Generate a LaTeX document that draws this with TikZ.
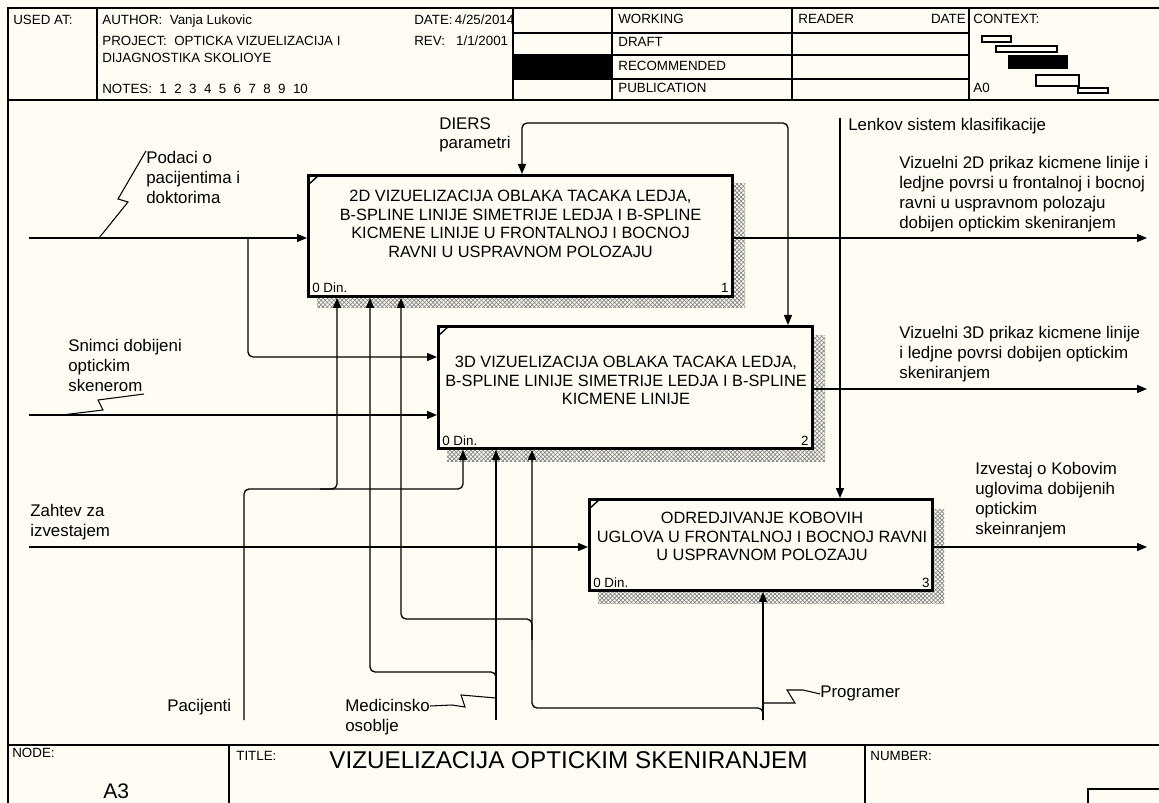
\documentclass[tikz,border=0pt]{standalone}
\usepackage{fontspec}
\setmainfont{Liberation Sans}
\usetikzlibrary{arrows.meta,patterns,patterns.meta}
\definecolor{bg}{RGB}{254,252,243}
\begin{document}
\begin{tikzpicture}[x=0.02cm,y=-0.02cm,
  frame/.style={line width=0.9pt},
  conn/.style={line width=0.75pt, rounded corners=0.1cm},
  arr/.style={-{Triangle[length=0.2cm,width=0.16cm]}},
  arrboth/.style={{Triangle[length=0.2cm,width=0.16cm]}-{Triangle[length=0.2cm,width=0.16cm]}},
  sq/.style={line width=0.6pt},
  fnbox/.style={draw, line width=1.7pt, fill=bg, inner sep=0, anchor=north west},
  shadA/.style={pattern={Lines[angle=45,distance=1.7pt,line width=0.4pt]}, pattern color=black!50},
  shadB/.style={pattern={Lines[angle=-45,distance=1.7pt,line width=0.4pt]}, pattern color=black!50},
  hdr/.style={font=\fontsize{7.6}{8.5}\selectfont, inner sep=0, anchor=base west},
  lbl/.style={font=\fontsize{9.6}{11.3}\selectfont, inner sep=0, anchor=north west, align=left},
  btxt/.style={font=\fontsize{9.3}{10.5}\selectfont, inner sep=0, anchor=north, align=center},
  small/.style={font=\fontsize{7.6}{8}\selectfont, inner sep=0},
]
\useasboundingbox (0,0) rectangle (1159,803);
\fill[bg] (0,0) rectangle (1159,803);

% ---------- frame ----------
\draw[frame] (1159,8) -- (8,8) -- (8,803);
\draw[frame] (8,100) -- (1159,100);
\draw[frame] (97,8) -- (97,100);
\draw[frame] (513,8) -- (513,100);
\draw[frame] (612,8) -- (612,100);
\draw[frame] (792,8) -- (792,100);
\draw[frame] (969,8) -- (969,100);
\draw[frame] (513,33) -- (969,33);
\draw[frame] (513,55) -- (969,55);
\draw[frame] (513,79) -- (969,79);
\fill[black] (513,55) rectangle (612,79);
\draw[frame] (8,745) -- (1159,745);
\draw[frame] (229,745) -- (229,803);
\draw[frame] (865,745) -- (865,803);
\draw[line width=0.8pt] (1088,810) -- (1088,789) -- (1165,789);

% context mini boxes
\draw[line width=0.7pt] (982,36) rectangle (1011,42);
\draw[line width=0.7pt] (996,46) rectangle (1057,52);
\fill[black] (1008,55) rectangle (1068,69);
\draw[line width=0.7pt] (1036,75) rectangle (1079,86);
\draw[line width=0.7pt] (1078,88) rectangle (1108,93);

% header texts
\node[hdr] (usedat) at (13,25) {USED AT:};
\node[hdr] (author) at (102,25) {AUTHOR:\ \ Vanja Lukovic};
\node[hdr] (project) at (102,46) {PROJECT:\ \ OPTICKA VIZUELIZACIJA I};
\node[hdr] (project2) at (102,63) {DIJAGNOSTIKA SKOLIOYE};
\node[hdr] (notes) at (102,94) {NOTES:\ \ 1\ \ 2\ \ 3\ \ 4\ \ 5\ \ 6\ \ 7\ \ 8\ \ 9\ \ 10};
\node[hdr] (date) at (414,25) {DATE:\,4/25/2014};
\node[hdr] (rev) at (414,46) {REV:\ \ \ 1/1/2001};
\node[hdr] (working) at (618,24) {WORKING};
\node[hdr] (draft) at (618,47) {DRAFT};
\node[hdr] (recommended) at (618,71) {RECOMMENDED};
\node[hdr] (publication) at (618,93) {PUBLICATION};
\node[hdr] (reader) at (798,24) {READER};
\node[hdr, anchor=base east] (rdate) at (966,24) {DATE};
\node[hdr] (context) at (973,24) {CONTEXT:};
\node[hdr] (a0) at (973,93) {A0};

% footer texts
\node[hdr] (nodelbl) at (12,757) {NODE:};
\node[hdr] (titlelbl) at (236,760) {TITLE:};
\node[hdr] (numlbl) at (870,760) {NUMBER:};
\node[font=\fontsize{13.8}{15}\selectfont, anchor=base west, inner sep=0] (title) at (329,768) {VIZUELIZACIJA OPTICKIM SKENIRANJEM};
\node[font=\fontsize{12}{14}\selectfont, anchor=base west, inner sep=0] (a3) at (103,798) {A3};

% ---------- shadows ----------
\fill[shadA] (317,184) rectangle (745,308);
\fill[shadB] (317,184) rectangle (745,308);
\fill[shadA] (447,336) rectangle (825,462);
\fill[shadB] (447,336) rectangle (825,462);
\fill[shadA] (598,509) rectangle (944,603);
\fill[shadB] (598,509) rectangle (944,603);

% ---------- boxes ----------
\node[fnbox, minimum width=8.48cm, minimum height=2.42cm] (b1) at (307,174) {};
\node[fnbox, minimum width=7.48cm, minimum height=2.44cm] (b2) at (437,325) {};
\node[fnbox, minimum width=6.86cm, minimum height=1.82cm] (b3) at (588,498) {};
\draw[line width=0.8pt] (308,185) -- (319,175);
\draw[line width=0.8pt] (438,336) -- (449,326);
\draw[line width=0.8pt] (589,509) -- (600,499);

\node[btxt] (t1) at (520.5,190) {2D VIZUELIZACIJA OBLAKA TACAKA LEDJA,\\B-SPLINE LINIJE SIMETRIJE LEDJA I B-SPLINE\\KICMENE LINIJE U FRONTALNOJ I BOCNOJ\\RAVNI U USPRAVNOM POLOZAJU};
\node[btxt] (t2) at (626,356) {3D VIZUELIZACIJA OBLAKA TACAKA LEDJA,\\B-SPLINE LINIJE SIMETRIJE LEDJA I B-SPLINE\\KICMENE LINIJE};
\node[btxt] (t3) at (762,512) {ODREDJIVANJE KOBOVIH\\UGLOVA U FRONTALNOJ I BOCNOJ RAVNI\\U USPRAVNOM POLOZAJU};

\node[small, anchor=base west] (d1) at (312,293) {0 Din.};
\node[small, anchor=base east] (n1) at (729,293) {1};
\node[small, anchor=base west] (d2) at (442,446) {0 Din.};
\node[small, anchor=base east] (n2) at (809,446) {2};
\node[small, anchor=base west] (d3) at (593,587) {0 Din.};
\node[small, anchor=base east] (n3) at (930,587) {3};

% ---------- labels ----------
\node[lbl] (lpod) at (146,151) {Podaci o\\pacijentima i\\doktorima};
\node[lbl] (lsni) at (68,339) {Snimci dobijeni\\optickim\\skenerom};
\node[lbl] (lzah) at (30,504) {Zahtev za\\izvestajem};
\node[lbl] (ldie) at (439,117) {DIERS\\parametri};
\node[lbl] (llen) at (848,118) {Lenkov sistem klasifikacije};
\node[lbl] (lviz2) at (899,156) {Vizuelni 2D prikaz kicmene linije i\\ledjne povrsi u frontalnoj i bocnoj\\ravni u uspravnom polozaju\\dobijen optickim skeniranjem};
\node[lbl] (lviz3) at (899,326) {Vizuelni 3D prikaz kicmene linije\\i ledjne povrsi dobijen optickim\\skeniranjem};
\node[lbl] (lizv) at (975,462) {Izvestaj o Kobovim\\uglovima dobijenih\\optickim\\skeinranjem};
\node[lbl] (lpac) at (167,699) {Pacijenti};
\node[lbl] (lmed) at (345,699) {Medicinsko\\osoblje};
\node[lbl] (lprog) at (820,686) {Programer};

% ---------- coordinates ----------
\coordinate (i1) at (29,238);
\coordinate (j1) at (248,238);
\coordinate (i2) at (29,415);
\coordinate (i3) at (29,547);
\coordinate (clen) at (840,118);
\coordinate (o1) at (1147,238);
\coordinate (o2) at (1147,389);
\coordinate (o3) at (1147,547);
\coordinate (mpac) at (244,720);
\coordinate (mmed) at (496,720);
\coordinate (mprog) at (763,720);

% ---------- inputs ----------
\draw[conn,arr] (i1) -- (b1.west |- i1);
\draw[conn,arr] (j1) -- (248,357) -- (b2.west |- 0,357);
\draw[conn,arr] (i2) -- (b2.west |- i2);
\draw[conn,arr] (i3) -- (b3.west |- i3);

% ---------- controls ----------
\draw[conn,arrboth] (522,0 |- b1.north) -- (522,123) -- (788,123) -- (788,0 |- b2.north);
\draw[conn,arr] (clen) -- (clen |- b3.north);

% ---------- outputs ----------
\draw[conn,arr] (b1.east |- o1) -- (o1);
\draw[conn,arr] (b2.east |- o2) -- (o2);
\draw[conn,arr] (b3.east |- o3) -- (o3);

% ---------- mechanisms ----------
\draw[conn,arr] (mpac) -- (244,489) -- (463,489) -- (463,0 |- b2.south);
\draw[conn,arr] (320,489) -- (337,489) -- (337,0 |- b1.south);
\draw[conn,arr] (mmed) -- (mmed |- b2.south);
\draw[conn,arr] (496,690) -- (496,672) -- (370,672) -- (370,0 |- b1.south);
\draw[conn,arr] (mprog) -- (mprog |- b3.south);
\draw[conn,arr] (763,720) -- (763,708) -- (532,708) -- (532,0 |- b2.south);
\draw[conn,arr] (532,640) -- (532,619) -- (401,619) -- (401,0 |- b1.south);

% ---------- squiggles ----------
\draw[sq] (lpod.north west) -- (118,199) -- (128,202) -- (99,238);
\draw[sq] (144,394) -- (98,400) -- (103,410) -- (62,415);
\draw[sq] (lmed.north east |- 0,706) -- (452,705) -- (465,707) -- (461,695) -- (496,698);
\draw[sq] (lprog.west) -- (803,690) -- (787,690) -- (795,703) -- (763,703);
\end{tikzpicture}
\end{document}
